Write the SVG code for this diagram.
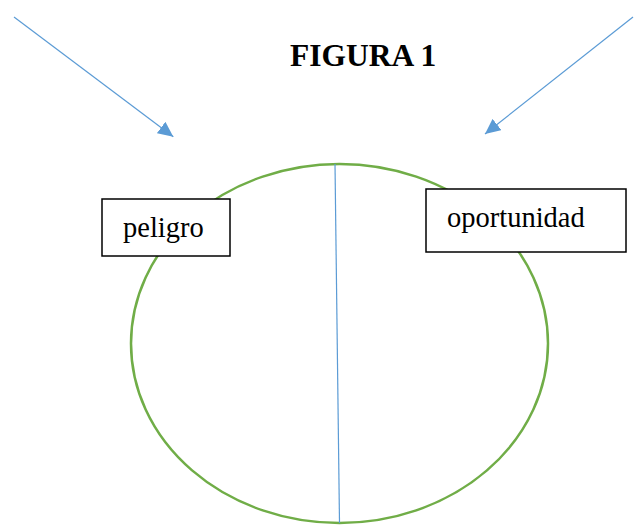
<svg xmlns="http://www.w3.org/2000/svg" width="634" height="525" viewBox="0 0 634 525">
<style>
.lbl{font-family:"Liberation Serif","Times New Roman",serif;font-size:28.5px;fill:#000}
.title{font-family:"Liberation Serif","Times New Roman",serif;font-size:31.5px;font-weight:bold;fill:#000}
.box{fill:#fff;stroke:#000;stroke-width:1.5}
.arrow{stroke:#5B9BD5;stroke-width:1.2;fill:none;marker-end:url(#ah)}
</style>
<defs>
<marker id="ah" markerUnits="userSpaceOnUse" markerWidth="16" markerHeight="15" refX="15.3" refY="7.2" orient="auto">
<path d="M0,0 L15.3,7.2 L0,14.4 z" fill="#5B9BD5"/>
</marker>
</defs>
<rect width="634" height="525" fill="#fff"/>
<g id="title"><text class="title" x="290" y="66">FIGURA 1</text></g>
<g id="circle">
<ellipse cx="339.5" cy="343.5" rx="208.5" ry="179.5" fill="none" stroke="#70AD47" stroke-width="2.5"/>
</g>
<g id="connectors">
<line class="arrow" x1="14" y1="17" x2="173.3" y2="136.7"/>
<line class="arrow" x1="633" y1="17" x2="485" y2="134"/>
<line x1="335" y1="164" x2="339.5" y2="523" stroke="#5B9BD5" stroke-width="1.2"/>
</g>
<g id="peligro">
<rect class="box" x="102" y="199" width="128" height="57"/>
<text class="lbl" x="123" y="237">peligro</text>
</g>
<g id="oportunidad">
<rect class="box" x="426" y="189" width="200" height="63"/>
<text class="lbl" x="447" y="227">oportunidad</text>
</g>
</svg>
